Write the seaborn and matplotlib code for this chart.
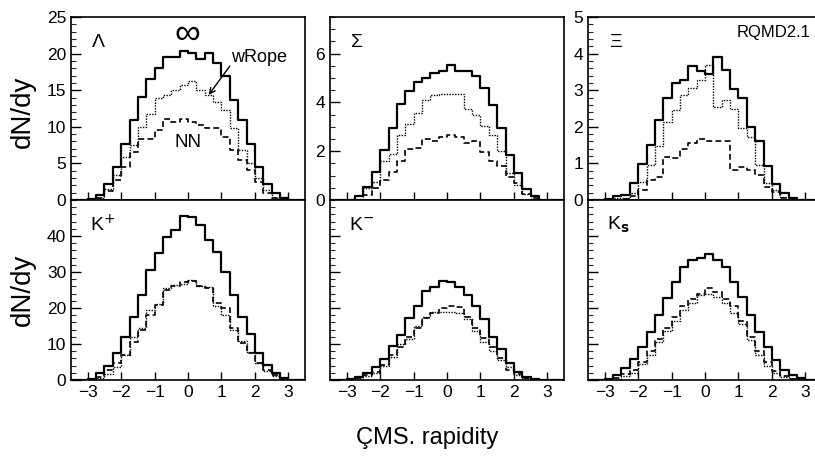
import matplotlib
matplotlib.use("Agg")
import matplotlib.pyplot as plt
import matplotlib.ticker as mticker
import numpy as np
import pandas as pd
import seaborn as sns

# rapidity bins: 28 bins of width 0.25 between -3.5 and 3.5
edges = np.arange(-3.5, 3.51, 0.25)
centers = (edges[:-1] + edges[1:]) / 2

# dN/dy per bin (solid = inf, dotted = wRope, dashed = NN)
lam_inf = [0, 0, 0.1, 0.7, 2.2, 4.5, 7.6, 10.9, 14.1, 16.5, 18.0, 19.5, 19.5, 20.3,
           20.1, 19.3, 20.1, 18.7, 17.0, 13.6, 10.9, 7.7, 4.5, 2.2, 0.9, 0.3, 0, 0]
lam_rope = [0, 0, 0.1, 0.3, 1.5, 3.4, 5.9, 7.5, 10.0, 11.8, 13.9, 14.3, 15.0, 15.7,
            16.2, 15.0, 14.3, 13.4, 12.3, 9.8, 6.8, 5.0, 3.0, 1.4, 0.3, 0.1, 0, 0]
lam_nn = [0, 0, 0.1, 0.3, 1.2, 2.8, 4.5, 6.5, 8.3, 8.4, 9.6, 11.1, 10.7, 11.1,
          10.7, 10.2, 9.8, 9.8, 8.6, 6.8, 5.5, 4.1, 2.5, 0.9, 0.3, 0.1, 0, 0]

sig_inf = [0, 0, 0, 0.15, 0.55, 1.15, 2.05, 2.95, 3.95, 4.45, 4.85, 5.0, 5.2, 5.3,
           5.55, 5.3, 5.3, 5.1, 4.6, 3.9, 2.95, 1.85, 1.1, 0.45, 0.15, 0, 0, 0]
sig_rope = [0, 0, 0, 0.05, 0.5, 0.75, 1.6, 1.9, 2.65, 3.1, 3.55, 4.1, 4.3, 4.33,
            4.33, 4.35, 3.75, 3.5, 3.05, 2.65, 2.0, 1.1, 0.6, 0.25, 0.05, 0, 0, 0]
sig_nn = [0, 0, 0, 0, 0.2, 0.5, 0.8, 1.15, 1.6, 2.1, 2.15, 2.5, 2.4, 2.6,
          2.65, 2.6, 2.35, 2.4, 1.95, 1.6, 1.4, 0.95, 0.7, 0.25, 0.1, 0, 0, 0]

xi_inf = [0, 0, 0.03, 0.1, 0.15, 0.47, 0.98, 1.5, 2.19, 2.8, 3.19, 3.28, 3.66, 3.52,
          3.43, 3.9, 3.55, 3.02, 2.78, 2.0, 1.62, 0.94, 0.44, 0.18, 0.05, 0, 0, 0]
xi_rope = [0, 0, 0, 0.05, 0.05, 0.2, 0.5, 0.96, 1.48, 2.14, 2.46, 2.87, 3.05, 3.28,
           3.7, 2.55, 2.73, 2.5, 1.96, 1.73, 0.96, 0.46, 0.27, 0.09, 0, 0, 0, 0]
xi_nn = [0, 0, 0, 0, 0.03, 0.1, 0.27, 0.55, 0.64, 1.18, 1.14, 1.38, 1.57, 1.68,
         1.6, 1.6, 1.62, 0.82, 0.91, 0.82, 0.68, 0.36, 0.21, 0.05, 0, 0, 0, 0]

kp_inf = [0, 0, 0.3, 1.85, 3.9, 7.4, 12.0, 17.6, 23.6, 30.6, 35.2, 39.6, 41.7, 45.6,
          45.2, 43.1, 38.9, 35.5, 30.1, 23.6, 17.6, 12.7, 7.4, 4.2, 1.85, 0.5, 0, 0]
kp_rope = [0, 0, 0.1, 0.5, 1.8, 3.5, 7.0, 12.0, 14.5, 19.5, 21.0, 25.5, 26.5, 26.8,
           27.8, 26.0, 25.8, 20.5, 18.0, 13.8, 10.8, 7.8, 4.8, 2.4, 1.2, 0.3, 0, 0]
kp_nn = [0, 0, 0.1, 0.9, 2.8, 4.6, 6.9, 10.6, 13.9, 18.1, 20.8, 25.0, 26.1, 27.3,
         27.5, 26.1, 25.5, 21.3, 19.9, 14.4, 10.2, 7.4, 4.6, 2.8, 1.4, 0.3, 0, 0]

km_inf = [0, 0, 0.2, 0.9, 1.85, 3.7, 5.7, 9.4, 12.5, 17.1, 20.6, 24.8, 25.7, 27.5,
          27.1, 25.7, 23.6, 20.6, 16.9, 12.0, 8.6, 4.6, 2.3, 0.9, 0.3, 0, 0, 0]
km_rope = [0, 0, 0, 0.3, 1.0, 2.0, 3.8, 6.5, 10.0, 11.5, 15.0, 17.5, 18.8, 19.0,
           19.0, 18.5, 17.0, 13.5, 10.5, 8.0, 5.5, 3.5, 1.5, 0.6, 0.2, 0, 0, 0]
km_nn = [0, 0, 0, 0.5, 1.4, 2.3, 4.2, 6.9, 9.3, 12.0, 14.4, 17.1, 18.5, 19.9,
         20.6, 20.2, 17.6, 14.4, 11.6, 9.3, 6.0, 2.8, 1.7, 0.5, 0.2, 0, 0, 0]

ks_inf = [0, 0, 0.2, 1.4, 3.2, 5.7, 9.3, 13.4, 18.1, 22.9, 27.3, 31.5, 33.3, 34.0,
          34.9, 33.3, 31.5, 27.3, 23.0, 18.1, 13.2, 9.3, 5.6, 2.8, 1.4, 0.5, 0, 0]
ks_rope = [0, 0, 0, 0.3, 1.0, 2.0, 4.5, 7.0, 10.5, 13.5, 16.5, 19.5, 21.5, 23.5,
           24.0, 23.0, 21.5, 18.5, 15.5, 11.0, 7.0, 4.0, 2.0, 0.8, 0.3, 0, 0, 0]
ks_nn = [0, 0, 0, 0.5, 1.7, 2.8, 5.0, 8.0, 11.5, 14.5, 17.5, 20.5, 22.5, 24.0,
         25.5, 24.5, 22.5, 20.5, 16.5, 12.0, 8.0, 5.0, 2.5, 1.2, 0.4, 0, 0, 0]

sns.set_style("ticks")
plt.rcParams['font.family'] = ['Liberation Sans', 'DejaVu Sans']
plt.rcParams['axes.linewidth'] = 1.2
plt.rcParams['text.color'] = 'black'

W, H = 815, 458
fig = plt.figure(figsize=(W / 100, H / 100), dpi=100)


def add_ax(x0, y0, w, h):
    return fig.add_axes([x0 / W, 1 - (y0 + h) / H, w / W, h / H])


panels = [
    # left px, top px, height px, series, ymax, yticks, minor step, label, show ytick labels, bottom row
    (71, 17, 183, (lam_inf, lam_rope, lam_nn), 25, [0, 5, 10, 15, 20, 25], 1, "Λ", True, False),
    (330, 17, 183, (sig_inf, sig_rope, sig_nn), 7.5, [0, 2, 4, 6], 0.5, "Σ", True, False),
    (588, 17, 183, (xi_inf, xi_rope, xi_nn), 5, [0, 1, 2, 3, 4, 5], 0.2, "Ξ", True, False),
    (71, 200, 180, (kp_inf, kp_rope, kp_nn), 50, [0, 10, 20, 30, 40], 2, r"K$^{+}$", True, True),
    (330, 200, 180, (km_inf, km_rope, km_nn), 50, [0, 10, 20, 30, 40], 2, r"K$^{-}$", False, True),
    (588, 200, 180, (ks_inf, ks_rope, ks_nn), 50, [0, 10, 20, 30, 40], 2, r"K$_{\mathbf{s}}$", False, True),
]

styles = [
    dict(linestyle="-", linewidth=1.6),
    dict(linestyle=(0, (1, 1.0)), linewidth=1.0),
    dict(linestyle=(0, (3.5, 2)), linewidth=1.2),
]

axes = []
for x0, y0, h, series, ymax, yticks, minor, label, show_y, bottom in panels:
    ax = add_ax(x0, y0, 234, h)
    for vals, st in zip(series, styles):
        df = pd.DataFrame({"y": centers, "n": vals})
        sns.histplot(data=df, x="y", weights="n", binwidth=0.25, binrange=(-3.5, 3.5),
                     element="step", fill=False, color="black", ax=ax, **st)
    ax.set_xlim(-3.5, 3.5)
    ax.set_ylim(0, ymax)
    ax.set_xticks([-3, -2, -1, 0, 1, 2, 3])
    ax.set_yticks(yticks)
    ax.yaxis.set_minor_locator(mticker.MultipleLocator(minor))
    ax.tick_params(axis="both", which="major", direction="in", length=6, width=1,
                   labelsize=12.5, colors="black")
    ax.tick_params(axis="y", which="minor", direction="in", length=3.5, width=0.8)
    ax.tick_params(axis="y", which="major", length=7)
    if not show_y:
        ax.tick_params(axis="y", labelleft=False)
    if not bottom:
        ax.tick_params(axis="x", labelbottom=False)
    ax.set_xlabel("")
    ax.set_ylabel("")
    for sp in ax.spines.values():
        sp.set_visible(True)
        sp.set_color("black")
    ax.text(0.08 if bottom else 0.09, 0.86, label, transform=ax.transAxes,
            fontsize=14, ha="left", va="center", color="black")
    axes.append(ax)

# annotations in the Lambda panel
ax = axes[0]
ax.text(-0.03, 22.6, "∞", fontsize=26, ha="center", va="center")
ax.text(1.3, 19.4, "wRope", fontsize=13, ha="left", va="center")
ax.annotate("", xy=(0.57, 14.05), xytext=(1.3, 18.6),
            arrowprops=dict(arrowstyle="->", lw=1.0, color="black"))
ax.text(0.0, 7.9, "NN", fontsize=13.5, ha="center", va="center")

fig.text(810 / W, 1 - 32 / H, "RQMD2.1", fontsize=12, ha="right", va="center")

fig.text(23 / W, 1 - 112 / H, "dN/dy", fontsize=20, rotation=90, ha="center", va="center")
fig.text(23 / W, 1 - 290 / H, "dN/dy", fontsize=20, rotation=90, ha="center", va="center")
fig.text(427 / W, 1 - 438 / H, "ÇMS. rapidity", fontsize=17, ha="center", va="center")

fig.savefig("out.png", dpi=100)
